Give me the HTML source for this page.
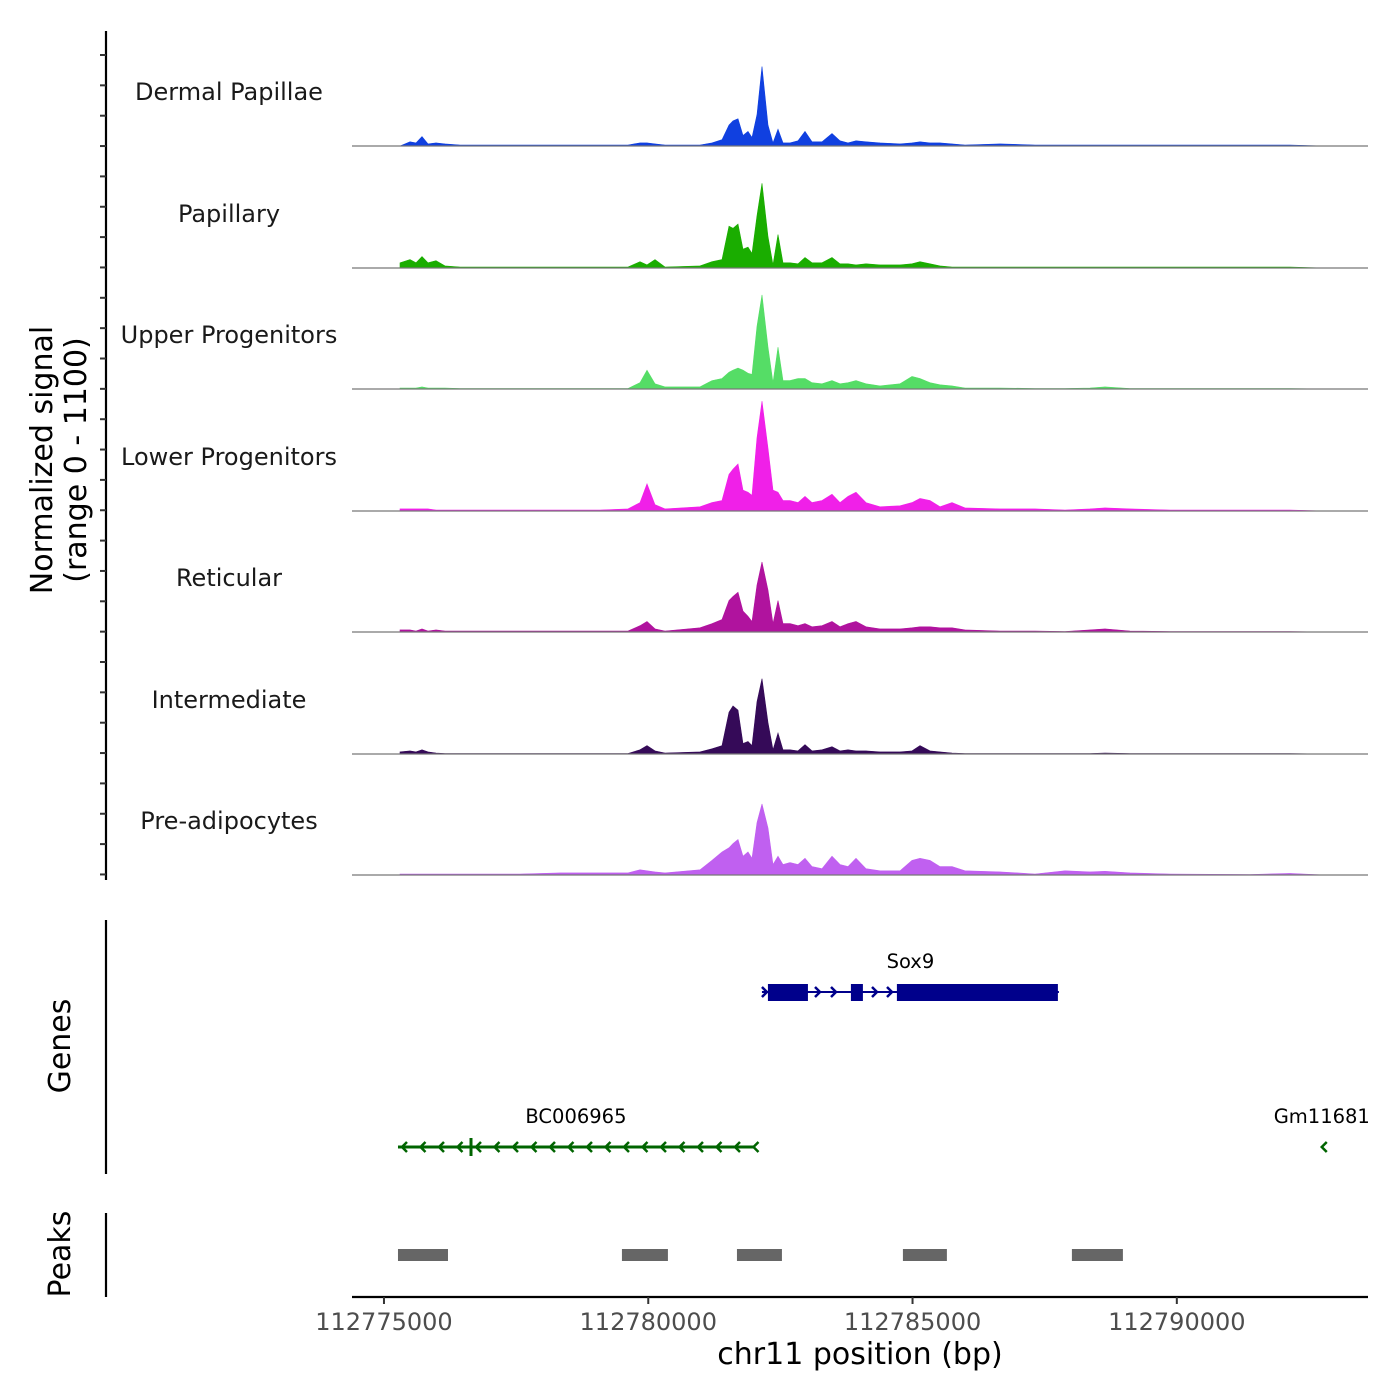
<!DOCTYPE html>
<html><head><meta charset="utf-8"><style>
html,body{margin:0;padding:0;background:#fff;}
svg{display:block;font-family:"DejaVu Sans","Liberation Sans",sans-serif;}
</style></head><body>
<svg id="chart" width="1400" height="1400" viewBox="0 0 1400 1400"></svg>
<script>
// ---- data ----
const regionStart = 112774395, regionEnd = 112793617;
const xTicks = [112775000, 112780000, 112785000, 112790000];
const trackNames = ["Dermal Papillae","Papillary","Upper Progenitors","Lower Progenitors","Reticular","Intermediate","Pre-adipocytes"];
const trackColors = ["#1040e0","#1aad00","#55dd66","#f020e8","#b0139e","#350a58","#c060f0"];
const positions = [112775303,112775492,112775605,112775719,112775832,112775984,112776154,112776438,112776816,112777573,112778330,112779087,112779617,112779844,112779976,112780128,112780317,112780979,112781206,112781395,112781527,112781603,112781697,112781792,112781887,112781962,112782057,112782152,112782265,112782360,112782455,112782549,112782682,112782833,112782966,112783098,112783287,112783476,112783628,112783779,112783930,112784119,112784384,112784763,112784990,112785141,112785330,112785519,112785746,112785992,112786655,112787317,112787885,112788358,112788641,112789114,112789871,112791385,112792142,112792804,112793617];
const sigDermal = [0,40,30,90,20,30,20,10,10,10,10,10,10,30,30,20,10,10,30,60,200,240,260,100,140,80,300,760,200,30,160,30,30,50,140,40,40,120,50,30,50,40,30,20,30,40,30,30,20,10,20,10,10,10,10,10,10,10,10,0,0];
const sigPapillary = [50,80,50,110,50,70,20,10,10,10,10,10,10,60,30,80,10,20,60,80,400,380,420,180,200,140,500,810,300,30,320,50,50,40,100,50,50,100,40,40,30,40,30,30,40,60,40,20,10,10,10,10,10,10,10,10,10,10,10,0,0];
const sigUpper = [10,10,10,20,10,10,10,5,5,5,5,5,5,60,180,50,20,20,80,100,160,180,200,180,150,140,600,900,400,60,400,80,80,100,100,60,50,80,50,60,80,50,30,50,120,100,60,40,30,10,10,5,5,10,20,5,5,5,5,0,0];
const sigLower = [20,20,20,20,20,10,10,10,10,10,10,10,20,80,260,60,20,40,80,100,350,400,450,200,180,150,700,1050,600,200,180,100,100,80,140,80,100,160,80,140,180,80,40,50,80,120,100,40,80,30,20,20,10,20,30,20,10,10,10,0,0];
const sigReticular = [20,20,10,30,10,20,10,10,10,10,10,10,10,60,100,30,10,40,80,120,300,340,380,200,150,100,450,670,400,80,300,80,80,60,80,50,60,100,50,80,100,50,30,30,40,50,50,40,40,20,10,10,5,20,30,10,5,5,5,0,0];
const sigIntermediate = [20,30,20,40,20,10,5,5,5,5,5,5,5,40,80,30,10,20,50,80,400,460,420,100,120,80,500,720,300,40,200,40,40,30,90,30,40,70,30,40,30,30,20,20,30,80,30,20,10,5,5,5,5,5,10,5,5,5,5,0,0];
const sigPreadipo = [10,10,10,10,10,10,10,10,10,10,20,20,20,50,40,30,20,50,140,220,260,300,340,180,220,160,500,680,450,100,180,100,120,100,160,80,60,180,100,80,160,60,40,40,140,160,140,80,80,40,30,10,40,30,35,20,10,5,15,0,0];
const signals = [sigDermal,sigPapillary,sigUpper,sigLower,sigReticular,sigIntermediate,sigPreadipo];
const yMax = 1100;
const peakStarts = [112775265,112779502,112781678,112784818,112788015];
const peakEnds = [112776211,112780372,112782529,112785650,112788980];
const geneNames = ["Sox9","BC006965","Gm11681"];
const geneStarts = [112782151,112775265,112792760];
const geneEnds = [112787769,112781999,112792800];
const geneStrands = ["+","-","-"];
const sox9ExonStarts = [112782264,112783834,112784704];
const sox9ExonEnds = [112783021,112784061,112787750];

// ---- layout ----
const NS="http://www.w3.org/2000/svg";
const svg=document.getElementById('chart');
const X0=352,X1=1368;
const xs=bp=>X0+(bp-regionStart)/(regionEnd-regionStart)*(X1-X0);
const baselines=[146,268,389,511,632,754,875];
const trackH=115;
function el(tag,attrs,parent){const e=document.createElementNS(NS,tag);for(const k in attrs)e.setAttribute(k,attrs[k]);(parent||svg).appendChild(e);return e;}

// y axis (signal)
const ya=el('g',{});


el('line',{x1:106,y1:31,x2:106,y2:880,stroke:'#000','stroke-width':2.2},ya);
for(let y=55;y<=880;y+=30.35){el('line',{x1:100,y1:y,x2:106,y2:y,stroke:'#333','stroke-width':2},ya);}
const yt=el('text',{x:0,y:0,'font-size':30,'text-anchor':'middle',transform:'translate(52,460) rotate(-90)'});


yt.textContent='Normalized signal';
const yt2=el('text',{x:0,y:0,'font-size':30,'text-anchor':'middle',transform:'translate(86,460) rotate(-90)'});


yt2.textContent='(range 0 - 1100)';

// tracks
trackNames.forEach((name,i)=>{
  const g=el('g',{});
  
  
  const b=baselines[i];
  const ys=v=>b-v/yMax*trackH;
  let d='M'+xs(positions[0]).toFixed(1)+','+b;
  signals[i].forEach((v,j)=>{d+=' L'+xs(positions[j]).toFixed(1)+','+ys(v).toFixed(1);});
  d+=' L'+xs(positions[positions.length-1]).toFixed(1)+','+b+' Z';
  const p=el('path',{d:d,fill:trackColors[i],stroke:trackColors[i],'stroke-width':0.6},g);
  
  
  el('line',{x1:X0,y1:b,x2:X1,y2:b,stroke:'#777','stroke-width':1.2},g);
  const t=el('text',{x:229,y:b-46,'font-size':24,'text-anchor':'middle',fill:'#1a1a1a'},g);
  
  
  t.textContent=name;
});

// genes
const gg=el('g',{});


el('line',{x1:106,y1:920,x2:106,y2:1174,stroke:'#000','stroke-width':2.2},gg);
const gl=el('text',{x:0,y:0,'font-size':30,'text-anchor':'middle',transform:'translate(70,1046) rotate(-90)'},gg);


gl.textContent='Genes';
const geneY=[992,1147,1147],geneCol=['#00008b','#006400','#006400'];
function chevron(x,y,dir,col,parent){
  const dx=dir=='+'?-5:5;
  el('polyline',{points:(x+dx)+','+(y-5)+' '+x+','+y+' '+(x+dx)+','+(y+5),fill:'none',stroke:col,'stroke-width':2.5},parent);
}
geneNames.forEach((n,i)=>{
  const g=el('g',{},gg);
  
  
  const x1=xs(geneStarts[i]),x2=xs(geneEnds[i]),y=geneY[i],c=geneCol[i];
  if(x2-x1<12){
    chevron((x1+x2)/2-2,y,geneStrands[i],c,g);
  } else {
    el('line',{x1:x1,y1:y,x2:x2,y2:y,stroke:c,'stroke-width':i==0?2:3},g);
    if(geneStrands[i]=='-'){
      for(let x=x1+4;x<=x2+1;x+=18.5) chevron(x,y,'-',c,g);
    } else {
      chevron(x1+5,y,'+',c,g);
    }
  }
  const t=el('text',{x:(x1+x2)/2+(i==2?-2:0),y:y-24,'font-size':19.5,'text-anchor':'middle',fill:'#000'},g);
  
  
  t.textContent=n;
});
// Sox9 exons and intron arrows
sox9ExonStarts.forEach((s,k)=>{
  const r=el('rect',{x:xs(s),y:984,width:xs(sox9ExonEnds[k])-xs(s),height:17,fill:'#00008b'},gg);
  
  
});
[820,836,877,892].forEach(x=>chevron(x,992,'+','#00008b',gg));
el('line',{x1:471,y1:1138,x2:471,y2:1156,stroke:'#006400','stroke-width':3},gg);

// peaks
const pg=el('g',{});


el('line',{x1:106,y1:1213,x2:106,y2:1297,stroke:'#000','stroke-width':2.2},pg);
const pl=el('text',{x:0,y:0,'font-size':30,'text-anchor':'middle',transform:'translate(70,1254) rotate(-90)'},pg);


pl.textContent='Peaks';
peakStarts.forEach((s,k)=>{
  const r=el('rect',{x:xs(s),y:1249,width:xs(peakEnds[k])-xs(s),height:12,fill:'#666'},pg);
  
  
});

// x axis
const xa=el('g',{});


el('line',{x1:X0,y1:1297,x2:X1,y2:1297,stroke:'#000','stroke-width':2.2},xa);
xTicks.forEach(v=>{
  const x=xs(v);
  el('line',{x1:x,y1:1297,x2:x,y2:1304,stroke:'#333','stroke-width':2},xa);
  const t=el('text',{x:x,y:1330,'font-size':24,'text-anchor':'middle',fill:'#4d4d4d'},xa);
  
  
  t.textContent=v;
});
const xt=el('text',{x:860,y:1364,'font-size':30,'text-anchor':'middle',fill:'#000'},xa);


xt.textContent='chr11 position (bp)';
</script>
</body></html>
